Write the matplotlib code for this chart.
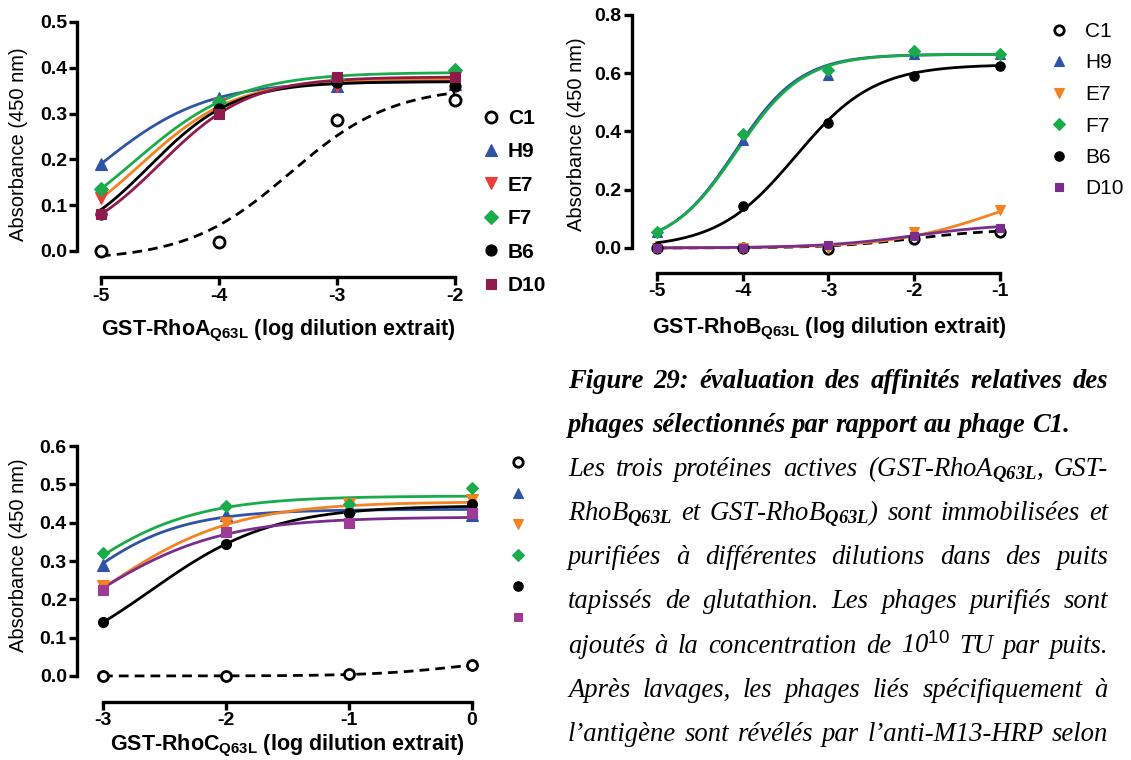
import numpy as np
import matplotlib
matplotlib.use("Agg")
import matplotlib.pyplot as plt
from matplotlib.lines import Line2D
from matplotlib.ticker import FormatStrFormatter

# =========================
# Fonts
# =========================

plt.rcParams["font.family"] = "Liberation Sans"
plt.rcParams["axes.unicode_minus"] = False
plt.rcParams["mathtext.fontset"] = "custom"
plt.rcParams["mathtext.rm"] = "Liberation Sans"
plt.rcParams["mathtext.sf"] = "Liberation Sans:bold"
plt.rcParams["mathtext.bf"] = "Liberation Serif:bold:italic"
plt.rcParams["mathtext.it"] = "Liberation Serif:italic"

# =========================
# Data
# =========================

clones = ["C1", "H9", "E7", "F7", "B6", "D10"]

# RhoA
rhoa_x = [-5, -4, -3, -2]
rhoa_y = [
    [0.00, 0.02, 0.285, 0.33],
    [0.19, 0.335, 0.36, 0.365],
    [0.115, 0.32, 0.36, 0.38],
    [0.135, 0.325, 0.375, 0.395],
    [0.08, 0.31, 0.37, 0.36],
    [0.08, 0.30, 0.38, 0.38],
]
# fitted curves: bottom, top, logEC50, hill slope
rhoa_fit = [
    (-0.02, 0.36, -3.4, 1.0),
    (0.0, 0.37, -5.025, 0.957),
    (0.0, 0.375, -4.67, 1.075),
    (0.0, 0.39, -4.72, 0.975),
    (0.0, 0.37, -4.59, 1.2),
    (0.0, 0.38, -4.5, 1.147),
]

# RhoB
rhob_x = [-5, -4, -3, -2, -1]
rhob_y = [
    [0.0, 0.0, -0.005, 0.03, 0.055],
    [0.055, 0.37, 0.595, 0.665, 0.665],
    [0.0, 0.0, 0.0, 0.055, 0.13],
    [0.055, 0.39, 0.61, 0.675, 0.665],
    [0.005, 0.145, 0.43, 0.59, 0.625],
    [0.0, 0.0, 0.01, 0.04, 0.07],
]
rhob_fit = [
    (0.0, 0.065, -2.0, 0.9),
    (0.0, 0.665, -4.086, 1.14),
    (0.0, 0.25, -1.0, 0.7),
    (0.0, 0.665, -4.07, 1.12),
    (0.0, 0.63, -3.384, 0.95),
    (0.0, 0.085, -2.0, 0.8),
]

# RhoC
rhoc_x = [-3, -2, -1, 0]
rhoc_y = [
    [0.0, 0.0, 0.005, 0.028],
    [0.29, 0.42, 0.44, 0.42],
    [0.235, 0.40, 0.45, 0.46],
    [0.32, 0.445, 0.45, 0.49],
    [0.14, 0.345, 0.425, 0.45],
    [0.225, 0.375, 0.40, 0.425],
]
rhoc_fit = [
    (0.0, 0.05, -0.1, 1.2),
    (0.0, 0.435, -3.32, 1.0),
    (0.0, 0.455, -3.01, 0.81),
    (0.0, 0.47, -3.357, 0.86),
    (0.0, 0.445, -2.614, 0.875),
    (0.0, 0.415, -3.116, 0.82),
]

# =========================
# Styles
# =========================

BLUE = "#2e55a5"
RED = "#ee3a39"
ORANGE = "#f58220"
GREEN = "#1aab4b"
MAROON = "#8f1a4c"
PURPLE = "#7b2d8e"
MAGENTA = "#9d3b97"

markers = ["o", "^", "v", "D", "o", "s"]
msizes = [8, 9, 9, 7, 8, 7.5]

rhoa_marker_col = ["black", BLUE, RED, GREEN, "black", MAROON]
rhoa_line_col = ["black", BLUE, ORANGE, GREEN, "black", MAROON]
rhob_marker_col = ["black", BLUE, ORANGE, GREEN, "black", PURPLE]
rhob_line_col = ["black", BLUE, ORANGE, GREEN, "black", PURPLE]
rhoc_marker_col = ["black", BLUE, ORANGE, GREEN, "black", MAGENTA]
rhoc_line_col = ["black", BLUE, ORANGE, GREEN, "black", PURPLE]

W, H = 1131, 760
fig = plt.figure(figsize=(W / 100, H / 100), dpi=100)


def add_axes_px(left, right, top, bottom):
    return fig.add_axes([left / W, 1 - bottom / H, (right - left) / W, (bottom - top) / H])


def logistic(x, bottom, top, ec50, hill):
    return bottom + (top - bottom) / (1 + 10 ** ((ec50 - x) * hill))


def draw_panel(ax, x, ys, fits, mcols, lcols, scale, ymax, ystep, xlim, ylim):
    for i in range(len(clones)):
        b, t, ec, h = fits[i]
        xx = np.linspace(x[0], x[-1], 200)
        ls = (0, (3.5, 2.2)) if i == 0 else "-"
        ax.plot(xx, logistic(xx, b, t, ec, h), color=lcols[i], lw=2.0, ls=ls,
                clip_on=False, zorder=2)
    for i in range(len(clones)):
        open_m = i == 0
        ax.plot(x, ys[i], ls="none", marker=markers[i], ms=msizes[i] * scale,
                mfc="white" if open_m else mcols[i], mec=mcols[i],
                mew=2.0 if open_m else 0.8, clip_on=False, zorder=3)
    ax.set_xlim(*xlim)
    ax.set_ylim(*ylim)
    ax.set_xticks(x)
    ax.set_yticks(np.arange(0, ymax + ystep / 2, ystep))
    ax.yaxis.set_major_formatter(FormatStrFormatter("%.1f"))
    ax.spines["top"].set_visible(False)
    ax.spines["right"].set_visible(False)
    ax.spines["left"].set_bounds(0, ymax)
    ax.spines["bottom"].set_bounds(x[0], x[-1])
    for s in ("left", "bottom"):
        ax.spines[s].set_linewidth(2.4)
    ax.tick_params(width=2.4, length=5.5, labelsize=14, pad=2)
    for lbl in ax.get_xticklabels() + ax.get_yticklabels():
        lbl.set_fontweight("bold")
    ax.patch.set_visible(False)


def add_legend(ax, mcols, labels, left, top, scale, bold, size, spacing, textpad):
    handles = []
    for i in range(len(clones)):
        open_m = i == 0
        handles.append(Line2D([], [], ls="none", marker=markers[i], ms=msizes[i] * scale,
                              mfc="white" if open_m else mcols[i], mec=mcols[i],
                              mew=2.0 if open_m else 0.8))
    ax.legend(handles, labels, loc="upper left", bbox_to_anchor=(left / W, 1 - top / H),
              bbox_transform=fig.transFigure, frameon=False, borderpad=0, borderaxespad=0,
              handlelength=1.0, handletextpad=textpad, labelspacing=spacing,
              prop={"size": size, "weight": "bold" if bold else "normal"})


# =========================
# Panel A: RhoA
# =========================

ax_a = add_axes_px(77.4, 466.8, 22, 277.1)
draw_panel(ax_a, rhoa_x, rhoa_y, rhoa_fit, rhoa_marker_col, rhoa_line_col,
           1.0, 0.5, 0.1, (-5.2, -1.9), (-0.057, 0.5))
ax_a.set_xlabel(r"GST-RhoA$_{\mathsf{Q63L}}$ (log dilution extrait)",
                fontsize=15.5, fontweight="bold", va="baseline")
ax_a.xaxis.set_label_coords(0.515, -0.227)
ax_a.set_ylabel("Absorbance (450 nm)", fontsize=14.5, va="center")
ax_a.yaxis.set_label_coords(-0.152, 0.52)
add_legend(ax_a, rhoa_marker_col, clones, 481, 109, 1.0, True, 15, 0.69, 0.3)

# =========================
# Panel B: RhoB
# =========================

ax_b = add_axes_px(632.1, 1008.6, 15, 273)
draw_panel(ax_b, rhob_x, rhob_y, rhob_fit, rhob_marker_col, rhob_line_col,
           0.85, 0.8, 0.2, (-5.29, -0.9), (-0.086, 0.8))
ax_b.set_xlabel(r"GST-RhoB$_{\mathsf{Q63L}}$ (log dilution extrait)",
                fontsize=15.5, fontweight="bold", va="baseline")
ax_b.xaxis.set_label_coords(0.523, -0.233)
ax_b.set_ylabel("Absorbance (450 nm)", fontsize=14.5, va="center")
ax_b.yaxis.set_label_coords(-0.149, 0.538)
add_legend(ax_b, rhob_marker_col, clones, 1049, 22, 0.85, False, 15, 0.6, 0.72)

# =========================
# Panel C: RhoC
# =========================

ax_c = add_axes_px(77.2, 484.3, 446.2, 702)
draw_panel(ax_c, rhoc_x, rhoc_y, rhoc_fit, rhoc_marker_col, rhoc_line_col,
           0.9, 0.6, 0.1, (-3.21, 0.1), (-0.068, 0.6))
ax_c.set_xlabel(r"GST-RhoC$_{\mathsf{Q63L}}$ (log dilution extrait)",
                fontsize=15.5, fontweight="bold", va="baseline")
ax_c.xaxis.set_label_coords(0.5166, -0.186)
ax_c.set_ylabel("Absorbance (450 nm)", fontsize=14.5, va="center")
ax_c.yaxis.set_label_coords(-0.145, 0.575)
add_legend(ax_c, rhoc_marker_col, [""] * 6, 509, 455, 0.85, False, 13, 0.78, 0.5)

# =========================
# Caption (justified text)
# =========================

caption_lines = [
    ("Figure 29: évaluation des affinités relatives des", True, True),
    ("phages sélectionnés par rapport au phage C1.", True, False),
    (r"Les trois protéines actives (GST-RhoA$_{\mathbf{Q63L}}$, GST-", False, True),
    (r"RhoB$_{\mathbf{Q63L}}$ et GST-RhoB$_{\mathbf{Q63L}}$) sont immobilisées et", False, True),
    ("purifiées à différentes dilutions dans des puits", False, True),
    ("tapissés de glutathion. Les phages purifiés sont", False, True),
    (r"ajoutés à la concentration de 10$^{\mathit{10}}$ TU par puits.", False, True),
    ("Après lavages, les phages liés spécifiquement à", False, True),
    ("l’antigène sont révélés par l’anti-M13-HRP selon", False, True),
]

cap_left, cap_right = 568, 1108
cap_base0, cap_step = 388, 44.1
cap_size = 19.2

renderer = fig.canvas.get_renderer()
for i, (line, bold, justify) in enumerate(caption_lines):
    y = 1 - (cap_base0 + i * cap_step) / H
    words = line.split(" ")
    texts = [fig.text(0, y, w, fontsize=cap_size, family="Liberation Serif",
                      style="italic", fontweight="bold" if bold else "normal",
                      va="baseline", ha="left") for w in words]
    widths = [t.get_window_extent(renderer).width for t in texts]
    if justify:
        gap = (cap_right - cap_left - sum(widths)) / (len(words) - 1)
    else:
        gap = cap_size * 0.25 * 100 / 72
    x = cap_left
    for t, wd in zip(texts, widths):
        t.set_x(x / W)
        x += wd + gap

fig.savefig("out.png", dpi=100)
